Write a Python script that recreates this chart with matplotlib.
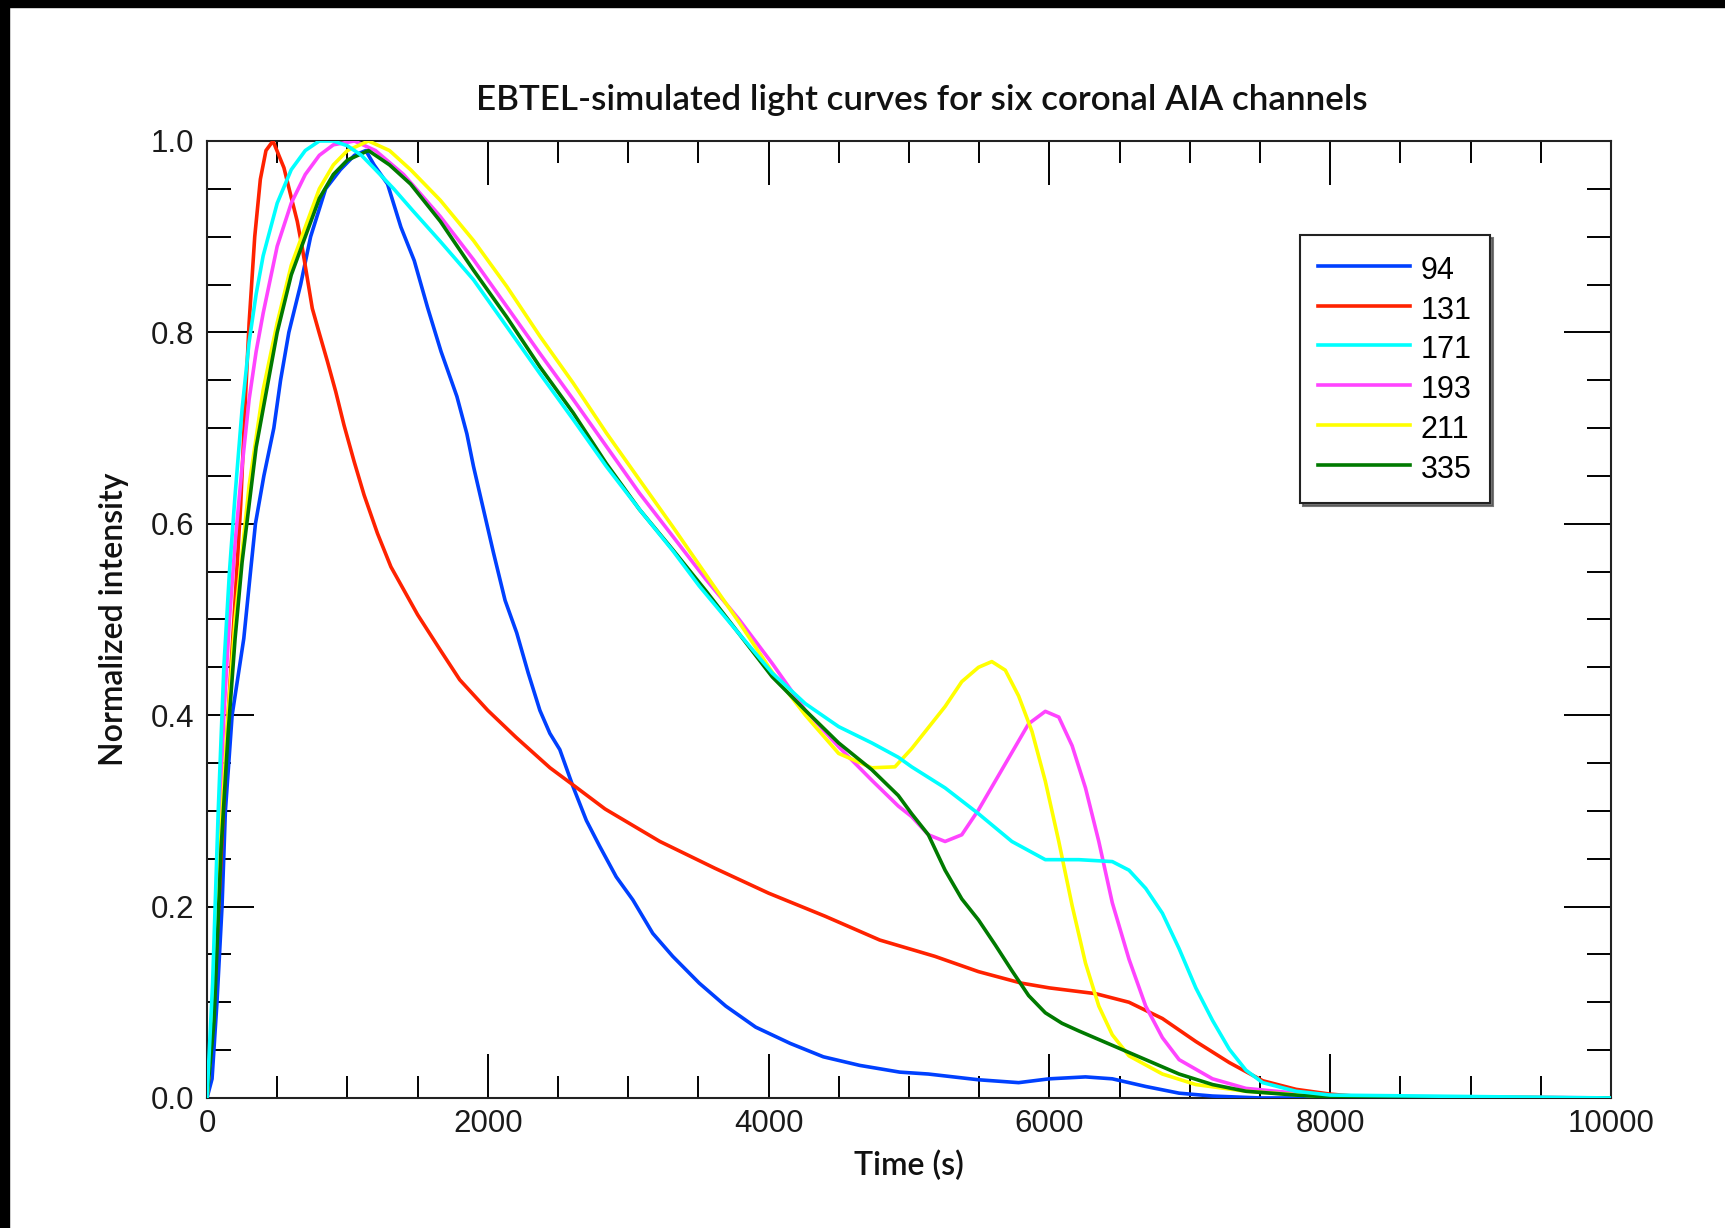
import matplotlib
matplotlib.use("Agg")
import matplotlib.pyplot as plt
from matplotlib.patches import Rectangle
from matplotlib.ticker import MultipleLocator

# light curves, normalized to peak, per AIA channel
t_94 = [0, 36, 71, 107, 131, 179, 262, 310, 345, 405, 476, 524, 583, 667, 738, 845, 950, 1050, 1131,
        1190, 1286, 1381, 1476, 1571, 1667, 1780, 1851, 1898, 1969, 2040, 2123, 2206, 2288, 2371, 2442,
        2513, 2608, 2702, 2797, 2915, 3033, 3175, 3317, 3506, 3695, 3908, 4154, 4390, 4650, 4934, 5138,
        5495, 5781, 6000, 6257, 6448, 6686, 6924, 7162, 7500, 8000, 10000]
i_94 = [0, 0.02, 0.1, 0.2, 0.3, 0.4, 0.48, 0.55, 0.6, 0.65, 0.7, 0.75, 0.8, 0.85, 0.9, 0.95, 0.97, 0.985, 0.99,
        0.975, 0.955, 0.91, 0.875, 0.826, 0.78, 0.733, 0.694, 0.66, 0.615, 0.57, 0.52, 0.486, 0.444, 0.405, 0.381,
        0.364, 0.325, 0.29, 0.263, 0.231, 0.207, 0.172, 0.148, 0.12, 0.096, 0.074, 0.057, 0.043, 0.034, 0.027, 0.025,
        0.019, 0.016, 0.02, 0.022, 0.02, 0.012, 0.005, 0.002, 0.0, 0.0, 0.0]

t_131 = [0, 50, 100, 150, 200, 240, 270, 300, 340, 380, 420, 470, 548, 595, 643, 679, 714, 750, 798, 857,
         917, 976, 1048, 1119, 1214, 1310, 1405, 1500, 1662, 1800, 2000, 2200, 2443, 2608, 2835, 3226, 3618,
         4000, 4401, 4792, 5184, 5495, 5800, 6000, 6329, 6567, 6805, 7043, 7281, 7519, 7757, 8000, 8250, 10000]
i_131 = [0, 0.1, 0.25, 0.4, 0.52, 0.62, 0.72, 0.81, 0.9, 0.96, 0.99, 1.0, 0.972, 0.944, 0.916, 0.888, 0.857, 0.825, 0.8, 0.77,
         0.738, 0.703, 0.665, 0.63, 0.59, 0.555, 0.53, 0.505, 0.468, 0.437, 0.405, 0.377, 0.345, 0.327, 0.302, 0.268, 0.24,
         0.214, 0.19, 0.165, 0.148, 0.132, 0.12, 0.115, 0.109, 0.1, 0.083, 0.059, 0.037, 0.018, 0.009, 0.004, 0.001, 0]

t_171 = [0, 40, 80, 120, 160, 200, 250, 300, 350, 400, 500, 600, 700, 800, 900, 1000, 1100, 1200, 1330, 1467,
         1662, 1898, 2135, 2371, 2608, 2844, 3080, 3317, 3506, 3790, 4026, 4262, 4499, 4735, 4924, 5019, 5257,
         5495, 5733, 5971, 6210, 6448, 6567, 6686, 6805, 6924, 7043, 7162, 7281, 7400, 7519, 7757, 8000, 10000]
i_171 = [0, 0.12, 0.3, 0.45, 0.55, 0.63, 0.72, 0.79, 0.84, 0.88, 0.935, 0.97, 0.99, 1.0, 1.0, 0.995, 0.985, 0.97, 0.95, 0.927,
         0.895, 0.855, 0.806, 0.757, 0.709, 0.66, 0.615, 0.572, 0.535, 0.485, 0.444, 0.412, 0.388, 0.371, 0.356, 0.346,
         0.324, 0.297, 0.268, 0.249, 0.249, 0.247, 0.238, 0.219, 0.193, 0.156, 0.115, 0.081, 0.051, 0.029, 0.016, 0.007,
         0.003, 0]

t_193 = [0, 40, 80, 120, 160, 200, 250, 300, 350, 400, 500, 600, 700, 800, 900, 1050, 1200, 1400, 1662, 1898,
         2135, 2371, 2608, 2844, 3080, 3317, 3553, 3790, 4026, 4262, 4499, 4735, 4924, 5019, 5138, 5257, 5376,
         5495, 5614, 5733, 5852, 5971, 6067, 6162, 6257, 6352, 6448, 6567, 6686, 6805, 6924, 7162, 7400, 7757,
         8000, 10000]
i_193 = [0, 0.08, 0.26, 0.4, 0.5, 0.58, 0.66, 0.73, 0.78, 0.82, 0.89, 0.935, 0.965, 0.985, 0.996, 1.0, 0.99, 0.965, 0.921, 0.876,
         0.827, 0.778, 0.73, 0.681, 0.632, 0.587, 0.542, 0.5, 0.454, 0.405, 0.367, 0.332, 0.305, 0.294, 0.275, 0.268, 0.275,
         0.301, 0.331, 0.361, 0.391, 0.404, 0.398, 0.368, 0.324, 0.268, 0.204, 0.145, 0.096, 0.063, 0.04, 0.02, 0.01, 0.005,
         0.002, 0]

t_211 = [0, 50, 100, 150, 200, 250, 300, 350, 400, 500, 600, 700, 800, 900, 1000, 1150, 1300, 1450, 1662, 1898,
         2135, 2371, 2608, 2844, 3080, 3317, 3553, 3790, 4026, 4262, 4499, 4735, 4900, 5019, 5138, 5257, 5376,
         5495, 5590, 5686, 5781, 5876, 5971, 6067, 6162, 6257, 6352, 6448, 6567, 6805, 7043, 7400, 8000, 10000]
i_211 = [0, 0.1, 0.28, 0.4, 0.5, 0.57, 0.64, 0.69, 0.74, 0.81, 0.87, 0.91, 0.95, 0.975, 0.99, 1.0, 0.99, 0.97, 0.938, 0.896,
         0.848, 0.796, 0.747, 0.695, 0.646, 0.597, 0.547, 0.497, 0.445, 0.4, 0.36, 0.345, 0.346, 0.365, 0.387, 0.409, 0.435,
         0.45, 0.456, 0.447, 0.42, 0.383, 0.331, 0.268, 0.201, 0.141, 0.096, 0.066, 0.044, 0.025, 0.014, 0.007, 0.001, 0]

t_335 = [0, 50, 100, 150, 200, 250, 300, 350, 400, 500, 600, 700, 800, 900, 1000, 1150, 1300, 1450, 1662, 1898,
         2135, 2371, 2608, 2844, 3080, 3317, 3553, 3790, 4026, 4262, 4499, 4735, 4924, 5019, 5138, 5257, 5376,
         5495, 5614, 5733, 5852, 5971, 6090, 6210, 6448, 6686, 6924, 7162, 7400, 7757, 8000, 10000]
i_335 = [0, 0.08, 0.26, 0.38, 0.48, 0.56, 0.62, 0.68, 0.72, 0.8, 0.86, 0.9, 0.94, 0.965, 0.98, 0.99, 0.975, 0.955, 0.916, 0.865,
         0.816, 0.764, 0.716, 0.663, 0.615, 0.573, 0.53, 0.485, 0.44, 0.405, 0.371, 0.343, 0.316, 0.297, 0.275, 0.238, 0.208,
         0.186, 0.16, 0.133, 0.107, 0.089, 0.078, 0.07, 0.055, 0.04, 0.025, 0.014, 0.007, 0.003, 0.001, 0]

channels = ['94', '131', '171', '193', '211', '335']
times = [t_94, t_131, t_171, t_193, t_211, t_335]
curves = [i_94, i_131, i_171, i_193, i_211, i_335]
colours = ['#0040ff', '#ff2200', '#00ffff', '#ff44ff', '#ffff00', '#007a00']
zorders = [3, 3, 5, 3, 3, 4]

label_font = 'Lato'
tick_font = 'Liberation Sans'

fig = plt.figure(figsize=(17.25, 12.28), dpi=100)
ax = fig.add_axes([0.12, 0.1059, 0.8139, 0.7793])

for t, y, c, name, z in zip(times, curves, colours, channels, zorders):
    ax.plot(t, y, color=c, lw=2.6, label=name, zorder=z)

ax.set_xlim(0, 10000)
ax.set_ylim(0, 1.0)
ax.xaxis.set_major_locator(MultipleLocator(2000))
ax.xaxis.set_minor_locator(MultipleLocator(500))
ax.yaxis.set_major_locator(MultipleLocator(0.2))
ax.yaxis.set_minor_locator(MultipleLocator(0.05))
ax.yaxis.set_major_formatter(matplotlib.ticker.FormatStrFormatter('%.1f'))

ax.tick_params(axis='both', which='both', direction='in', top=True, right=True,
               width=1.4, color='black')
ax.tick_params(axis='x', which='major', length=32, pad=8)
ax.tick_params(axis='x', which='minor', length=16)
ax.tick_params(axis='y', which='major', length=34, pad=9)
ax.tick_params(axis='y', which='minor', length=17.5)
for lab in ax.get_xticklabels() + ax.get_yticklabels():
    lab.set_fontfamily(tick_font)
    lab.set_fontsize(22.5)
    lab.set_color('#1a1a1a')
for s in ax.spines.values():
    s.set_linewidth(1.5)
    s.set_color('#222222')

ax.set_title('EBTEL-simulated light curves for six coronal AIA channels', x=0.509,
             fontfamily=label_font, fontweight='semibold', fontsize=25.2, pad=22, color='#111111')
ax.set_xlabel('Time (s)', fontfamily=label_font, fontweight='semibold', fontsize=23, labelpad=8,
              color='#111111')
ax.set_ylabel('Normalized intensity', fontfamily=label_font, fontweight='semibold', fontsize=23,
              labelpad=16, color='#111111')

leg = ax.legend(loc='upper left', bbox_to_anchor=(0.7785, 0.902), prop={'family': tick_font, 'size': 22},
                frameon=True, fancybox=False, shadow={'color': '#555555', 'alpha': 0.8}, framealpha=1,
                handlelength=3.0, handleheight=1.2, handletextpad=0.35, labelspacing=0.22,
                borderpad=0.6, borderaxespad=0)
leg.get_frame().set_edgecolor('#222222')
leg.get_frame().set_linewidth(1.5)
for line in leg.get_lines():
    line.set_linewidth(2.6)

# dark border strips along the top and left edges
fig.patches.append(Rectangle((0, 1 - 7 / 1228), 1, 7 / 1228, transform=fig.transFigure,
                             color='black', zorder=10))
fig.patches.append(Rectangle((0, 0), 9 / 1725, 1, transform=fig.transFigure,
                             color='black', zorder=10))

fig.savefig('out.png', dpi=100)
